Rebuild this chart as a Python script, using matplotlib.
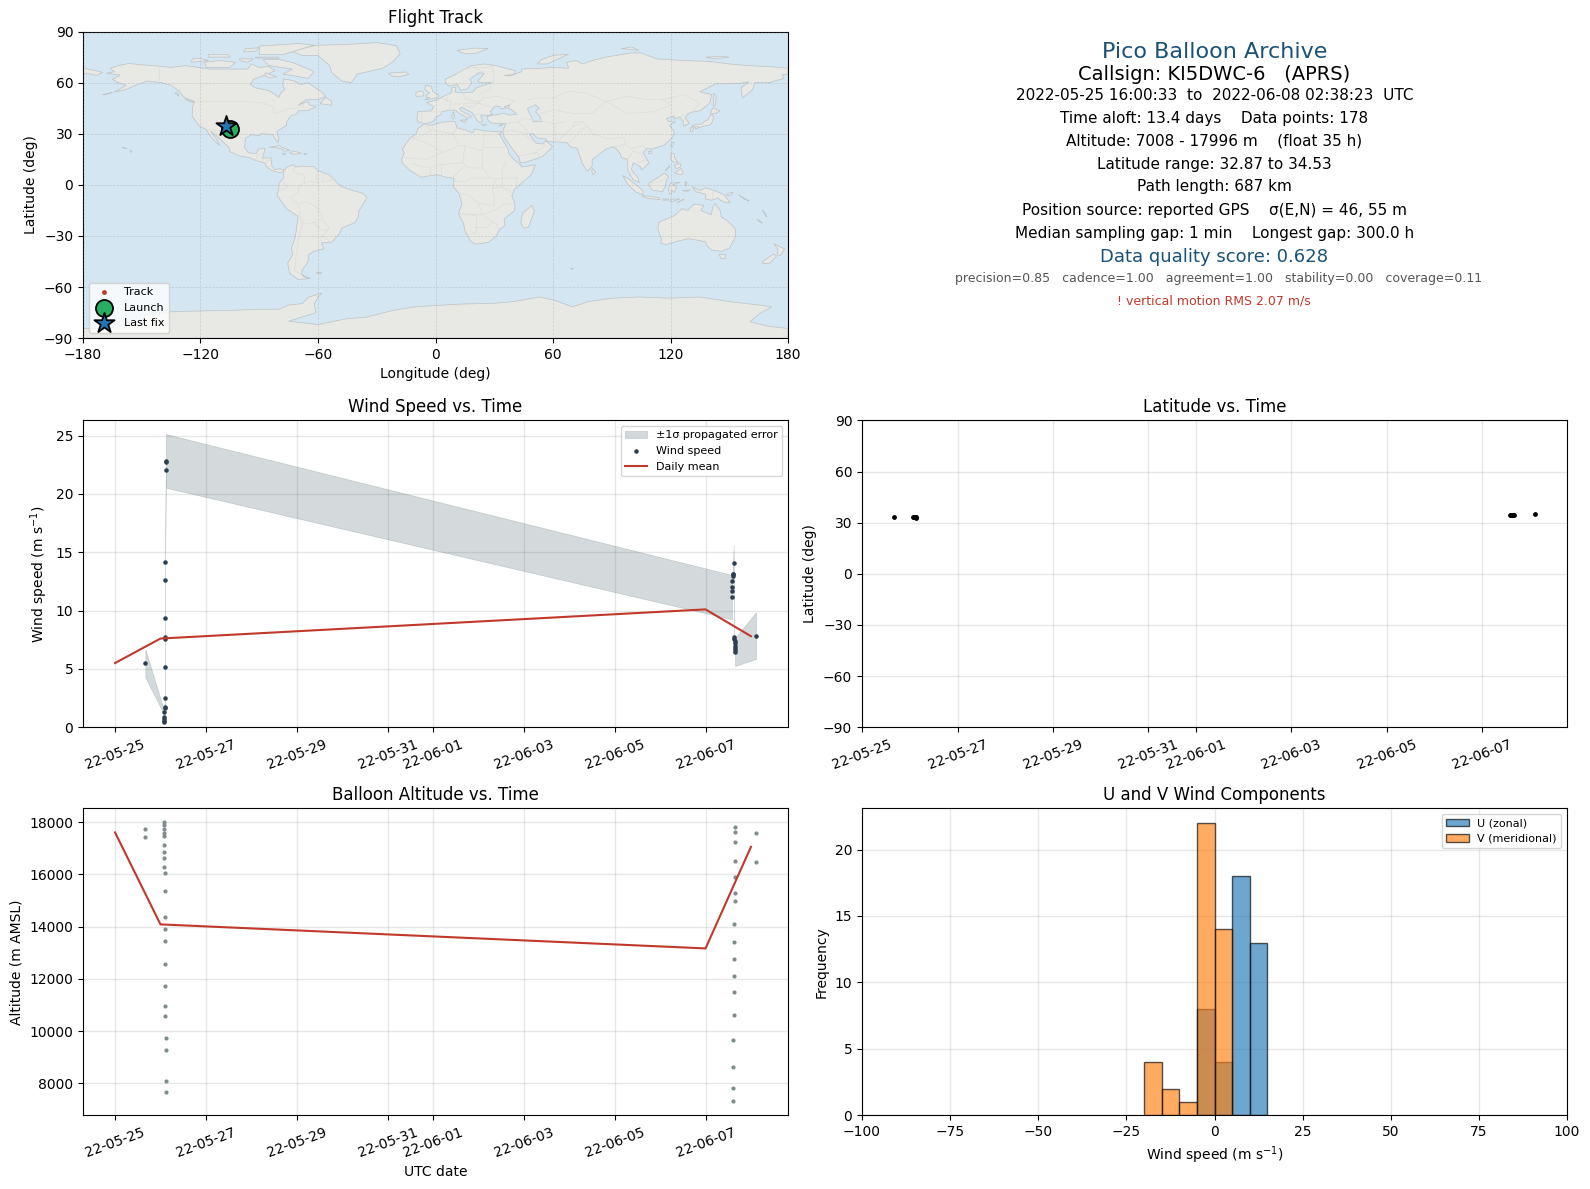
import numpy as np
import matplotlib
matplotlib.use("Agg")
import matplotlib.pyplot as plt
import matplotlib.dates as mdates
from matplotlib.patches import Polygon

# ---------- flight data (days since 2022-05-25 00:00 UTC) ----------
wind_days = [0.667, 1.078, 1.078, 1.078, 1.078, 1.078, 1.09, 1.09, 1.10, 1.10, 1.10, 1.10, 1.10, 1.10, 1.10,
             1.12, 1.12, 1.12,
             13.58, 13.58, 13.58, 13.58, 13.60, 13.60, 13.60, 13.62,
             13.63, 13.63, 13.64, 13.64, 13.65, 13.65, 13.65, 13.65, 14.11]
wind_speed = [5.48, 1.28, 0.46, 0.57, 0.68, 0.86, 1.63, 1.71, 2.48, 5.14, 7.6, 7.76, 9.33, 12.6, 14.2,
              22.09, 22.75, 22.83,
              11.15, 11.66, 12.0, 12.5, 13.0, 13.1, 13.15, 14.04,
              7.76, 7.6, 7.4, 7.2, 7.0, 6.8, 6.6, 6.45, 7.85]
wind_err = [1.2, 0.18, 0.1, 0.1, 0.1, 0.1, 0.15, 0.15, 0.2, 0.25, 0.3, 0.3, 0.3, 0.35, 0.4,
            0.5, 0.5, 2.3,
            1.9, 0.3, 0.3, 0.3, 0.3, 0.3, 0.3, 1.56,
            0.2, 0.2, 0.2, 0.2, 0.2, 0.2, 0.2, 1.2, 2.0]

mean_days = [0, 1, 13, 14]
wind_mean = [5.5, 7.6, 10.1, 7.8]
alt_mean = [17610, 14090, 13170, 17060]

alt_days = [0.667, 0.667,
            1.078, 1.078, 1.078, 1.078, 1.078, 1.078, 1.078, 1.078, 1.078,
            1.10, 1.10, 1.10, 1.10, 1.10, 1.10, 1.10, 1.10, 1.10,
            1.12, 1.12, 1.12, 1.12,
            13.65, 13.65, 13.65, 13.65, 13.65, 13.65, 13.65,
            13.63, 13.63, 13.63, 13.63, 13.63, 13.63,
            13.60, 13.60, 13.60, 13.60,
            14.11, 14.11]
altitude = [17731, 17425,
            17996, 17898, 17731, 17578, 17463, 17118, 16849, 16619, 16273,
            16043, 15352, 14355, 13895, 13473, 12590, 11746, 10979, 10595,
            9751, 9290, 8101, 7679,
            17808, 17616, 17233, 16504, 15890, 15276, 14969,
            14087, 13434, 12782, 12130, 11516, 10634,
            9675, 8639, 7833, 7320,
            17578, 16465]

lat_days = [0.667, 1.07, 1.08, 1.09, 1.10, 1.11, 1.12, 1.13, 13.58, 13.60, 13.62, 13.64, 13.66, 14.11]
latitude = [33.1, 33.6, 33.5, 33.4, 33.3, 33.2, 33.1, 33.0, 34.4, 34.5, 34.5, 34.5, 34.4, 35.0]

u_edges = [-5, 0, 5, 10]
u_values = [8, 4, 18, 13]
v_edges = [-20, -15, -10, -5, 0]
v_values = [4, 2, 1, 22, 14]

launch_lon, launch_lat = -105.0, 32.9
last_lon, last_lat = -107.2, 34.4
track_lon = [-105.0, -105.2, -106.0, -106.8, -107.2]
track_lat = [32.9, 33.2, 33.5, 34.2, 34.4]

# ---------- land outlines (lon, lat) ----------
north_america = [(-168,65.5),(-164,66.5),(-166,68.5),(-162,70),(-156.5,71.3),(-150,70.5),(-141,69.7),(-135,69),(-128,70),(-124,69.5),(-115,68),(-108,68),(-100,68),(-96,68),(-94,71),(-90,69),(-85,69.5),(-82,67),(-87,64.5),(-93,62),(-94.5,59),(-92,57),(-85,55.3),(-82,53),(-80,51.3),(-79,54),(-77,56),(-78,59),(-77.5,62.3),(-72,61),(-69,58.8),(-65,60),(-62,57.5),(-58,54.5),(-56,52),(-60,50),(-66,50),(-70,47),(-65,49),(-64.5,47),(-61,46),(-65,43.7),(-70,43.5),(-71,41.5),(-74,40.5),(-76,37),(-76,35),(-81,31.5),(-80,27),(-80.5,25),(-82,27),(-83,29.5),(-85,29.8),(-89,30),(-90,29),(-94,29.5),(-97,27.5),(-97.5,22),(-95.5,18.8),(-91.5,18.5),(-90.5,21),(-87,21.5),(-88,17),(-88.5,15.8),(-84,15.8),(-83.5,11),(-82,9),(-79.5,9.5),(-77.3,8.7),(-78,7.5),(-80,7.3),(-83,8.2),(-85.8,10),(-87.5,13),(-92,14.3),(-95,16),(-100,17),(-105,19.5),(-105.5,22),(-109,25.7),(-112.5,29.5),(-114.7,31.5),(-112,27),(-110,23),(-112,25),(-115,28.5),(-117,32.5),(-120.5,34.5),(-122.5,37.5),(-124.3,40.5),(-124,46),(-123,49),(-128,51),(-131,55),(-135,58.5),(-140,60),(-147,61),(-152,59),(-158,56),(-164,54.5),(-158,58.5),(-162,60),(-165,62),(-161,64.5)]
south_america = [(-77.3,8.7),(-75.5,10.8),(-72,12),(-71.5,10.5),(-68,11),(-62,10.7),(-60,8.3),(-54,5.8),(-50,1),(-48,-1),(-44,-2.7),(-37,-5),(-35,-7.5),(-39,-15),(-39.5,-19),(-41,-22),(-48,-25.5),(-48.7,-28),(-53,-33.8),(-58.3,-34),(-57,-37.5),(-62,-39),(-65,-41),(-65,-45),(-68,-50),(-68.5,-52.5),(-65,-55),(-70,-55.5),(-74.5,-52),(-75.5,-46),(-73,-41),(-73.5,-37),(-71.5,-30),(-70.2,-18.5),(-76,-14),(-81,-6),(-80,-2),(-80,1),(-77.5,4),(-77.5,7.5)]
africa = [(-5.8,35.8),(-2,35),(3,36.8),(10,37.3),(11,33.5),(15,32.3),(19,30.5),(20,32.8),(25,31.7),(32,31.2),(34.3,31.2),(32.5,30),(34,27),(37,21),(37.5,18.5),(39.5,15.5),(43.2,12),(44,10.5),(51,11.8),(49,6),(45,2),(40,-3),(39,-6.5),(40.5,-11),(40.5,-15),(35,-20),(35.5,-24),(32.8,-26),(31,-30),(27,-33.8),(20,-34.8),(18,-33),(15,-27),(14.3,-22.5),(11.8,-17),(13.5,-11),(12,-5),(9,-1),(9.5,3.8),(5.5,4.5),(1,6),(-4,5.2),(-7.5,4.5),(-13,8.5),(-16.8,12.5),(-17.3,14.7),(-16,19),(-17,21),(-13,27.5),(-9.8,30),(-9,33)]
eurasia = [(-9,37),(-9.5,38.7),(-9,43),(-2,43.5),(-1,46),(-4.5,48.3),(1,50),(4,52),(8,54),(8.5,57),(10.5,57.5),(10,54.5),(14,54),(19,54.5),(21,57),(24,58.3),(29,60),(23,60),(21.5,61),(25,65.5),(22,65.8),(17.5,62),(18.5,60),(16.5,56.5),(13,55.5),(11,59),(7,58),(5,60),(5,62),(12,66),(18,70),(25,71),(31,70),(41,67),(40,64.8),(35,64.3),(38,64),(44,66.5),(44,68),(54,68.5),(60,69),(68,68.5),(67,72),(72,73),(75,71),(80,73),(87,75),(100,77.5),(105,77.5),(113,74),(127,73),(140,72.5),(150,71),(160,70),(170,69.5),(180,68.5),(180,65),(177,64.7),(178,62.5),(170,60),(163,60),(162,56),(156.7,51),(156,57),(160,60.5),(155,59.5),(143,59.3),(135,54.7),(141,53),(140,48),(135,43.5),(130,42.5),(127.5,39.8),(129.5,36),(126.5,34.5),(126.5,37.5),(125,39.5),(121.5,39),(122,40.5),(118,39),(119,37.2),(122.5,37),(119.5,35),(122,31),(121,28),(117,23.5),(110.5,21),(108,21.5),(106,19),(109,13),(106.5,10),(105,8.7),(105,10.5),(101,13),(100,9),(103.5,4),(104,1.3),(101,3),(98.3,8),(98,15),(95,16),(94,19),(91,22.5),(87,21),(82,16.5),(80,15),(80,11),(77.5,8),(75,12.5),(73,19),(72.5,21.5),(69,22.3),(67,25),(61,25.2),(57,25.7),(56.3,27),(52,27.5),(50,30),(48,30),(50,26.5),(51.5,24.5),(54.5,24),(56.3,26),(58.8,23.5),(59.8,22.3),(55,17),(52,15.5),(45,13),(43.3,12.8),(42.7,16),(39,21.5),(35,28),(34.8,29.5),(34.3,31.3),(35.9,36),(32,36),(28,36.5),(26.5,38.5),(26.3,40),(29,41),(31.5,41.2),(35,42),(38,41),(41.5,41.5),(39,44),(37,45),(38,47),(35,46),(36.5,45.3),(33.5,44.5),(33,46),(30.5,46.3),(28,43),(29,41.2),(26,40.8),(23,40.5),(24,38),(23,36.5),(21.5,37.5),(19.5,41),(18.5,42.5),(13.5,45.5),(12.3,45),(13,43.5),(16,41.8),(18.5,40),(16.5,39.5),(16,38),(15.5,40),(12,42),(10,44),(7,43.8),(3.2,43),(3,41.5),(0,39.5),(-0.5,38),(-2,36.8),(-5.5,36)]
australia = [(114,-22),(113.5,-26),(115.5,-32),(115,-34.3),(118,-35),(124,-33),(129,-31.6),(134,-32.5),(138,-33.5),(138.5,-35.5),(141,-38.3),(146,-39),(150,-37.3),(153,-31),(153.3,-26),(149,-21),(146,-19),(145.3,-15),(142.5,-10.8),(141.5,-13.5),(140.8,-17.5),(135.5,-15),(137,-12),(132,-11.3),(130,-13.5),(129,-15),(126,-14),(122,-18),(117,-20.5)]
antarctica = [(-180,-90),(-180,-84.3),(-165,-84),(-150,-80),(-148,-76.5),(-135,-74.5),(-120,-74),(-103,-73.6),(-90,-73),(-80,-73),(-75,-70.5),(-68,-69.7),(-65,-66),(-58,-63.5),(-60,-66),(-62,-70),(-61,-75),(-75,-80),(-60,-82),(-45,-78.5),(-36,-77.8),(-21,-73.5),(-10,-71.5),(12,-70),(30,-69.5),(40,-68.5),(53,-65.8),(60,-67.5),(70,-71.6),(78,-68.5),(90,-66.5),(104,-65.8),(120,-66.5),(135,-65.8),(150,-68.5),(165.7,-70.6),(171.7,-71.6),(165,-76),(160.6,-80.4),(170,-83),(180,-84.3),(180,-90)]
islands = [
    [(-180,68.5),(-175,67.5),(-170,66),(-173,64.3),(-178,65.5),(-180,65)],
    [(-73,78.2),(-67,80.5),(-60,82),(-45,82.5),(-30,83.5),(-20,81.8),(-18,77),(-22,72),(-27,68.5),(-40,65),(-43,60),(-48,61),(-53,66),(-54,70),(-60,76),(-68,76)],
    [(-80,73.7),(-72,71.5),(-62,66.5),(-65,62.5),(-72,64),(-78,65),(-73,68),(-85,70),(-88,73.5)],
    [(-117,69),(-105,69),(-102,72),(-110,73),(-118,72)],
    [(-125,72),(-116,73),(-120,74.3),(-124,74)],
    [(-90,76.5),(-78,76.5),(-62,82),(-70,83),(-90,81.5)],
    [(-92,75),(-80,75),(-80,74.3),(-92,74.5)],
    [(-116,75),(-105,75),(-106,76.5),(-116,76.5)],
    [(-98,78),(-92,78.5),(-90,80.5),(-97,80)],
    [(-100,73),(-96,72),(-93,74),(-100,74)],
    [(-87,65.8),(-81,63.5),(-85,62.8),(-87,64)],
    [(-59,47.7),(-53,46.7),(-53,49),(-56,51.5)],
    [(-128,50.7),(-124,49),(-123.5,48.4),(-125.5,48.8)],
    [(-133,54),(-131.5,54),(-131,52),(-132,53)],
    [(-85,22),(-80,23),(-74.2,20.2),(-77.5,19.9),(-78,21),(-82.5,22)],
    [(-74.4,18.5),(-73,20),(-68.5,18.7),(-71,18)],
    [(-78.3,18.4),(-76.3,18.1),(-77,17.8)],
    [(-67.2,18.5),(-65.7,18.3),(-66,18),(-67.2,18)],
    [(-156,20.6),(-155,19.7),(-155.7,19)],
    [(-160,22.2),(-158,21.5),(-157.5,21.2),(-159.5,21.8)],
    [(-170,53),(-165,54.2),(-167,53.5)],
    [(-61,-51.5),(-58,-51.5),(-59,-52.3)],
    [(-24,65.5),(-20,66),(-15,66.3),(-13.6,65),(-18.5,63.4),(-22.5,63.9)],
    [(-5.5,50),(1.3,51.2),(1.7,52.7),(-1.5,55),(-2,57.7),(-5,58.6),(-5.5,56),(-3,54),(-4.5,53),(-5,51.7),(-3,51.3)],
    [(-10,52),(-6,52.2),(-6,54.5),(-8,55.2),(-10,54)],
    [(11,79),(20,80.3),(27,80),(20,77),(15,77)],
    [(52,71),(57,71),(68,76.8),(60,76),(54,73.5)],
    [(95,80),(104,79),(100,81)],
    [(138,75),(146,75.5),(150,75),(142,74)],
    [(49.3,-12),(50.5,-15.5),(47.5,-24.8),(45,-25.5),(43.5,-22),(44.5,-16.5)],
    [(80,9.7),(81.8,7.5),(80.5,6),(79.8,8)],
    [(130,33.5),(131.8,33.5),(131,31.2),(130.2,31.3)],
    [(130.9,34.3),(132.5,35.5),(136,35.8),(137,37),(139.5,38.5),(140,40.5),(141.4,41.3),(142,39.5),(141,36),(139.8,35),(136.8,34.5),(135,33.6),(132.5,34)],
    [(132.5,34),(134.5,34.2),(134,33.3),(132.8,32.8)],
    [(140.3,41.6),(141.5,45.3),(145.3,43.5),(143,42)],
    [(142,54),(143.3,52),(143,47),(142,46),(142,50)],
    [(121,25),(122,25),(120.8,22),(120.1,23)],
    [(108.7,19.5),(110.5,20),(110.5,18.8),(109,18.2)],
    [(120.5,18.5),(122,18.4),(122,16),(124,13),(121,13.7),(120,16)],
    [(122,7),(125.5,9.7),(126.5,7),(125.5,6)],
    [(122,11.5),(125,12.5),(125,10.5),(123,9.5)],
    [(117.3,8.5),(119.5,11.3),(119.5,10.5),(117.5,8.3)],
    [(109,1),(111,2.5),(113.5,4.2),(116.8,7),(119,5),(117.7,2),(117.5,0),(116,-4),(110.5,-3),(109,0)],
    [(95.5,5.5),(98,4),(103.5,-1),(106,-3.5),(105.8,-5.8),(102,-4),(98.5,0)],
    [(105.3,-6.5),(108.5,-6.5),(114.5,-7.7),(114.3,-8.7),(108,-7.8)],
    [(116,-8.3),(119,-8.3),(119,-8.9),(116,-9)],
    [(120,-8.5),(125,-8.2),(123,-9),(120,-10)],
    [(124,-10),(127,-8.4),(125,-9.5),(123.7,-10.4)],
    [(119.5,-5.5),(119,-2.5),(120,1),(125,1.5),(121,0),(123,-1),(122,-4.5),(120.5,-3),(120.4,-5.5)],
    [(127.5,2),(128.5,1),(127.7,-0.8)],
    [(126,-3.2),(130,-3),(128,-3.8)],
    [(131,-1),(135,-3.3),(138,-1.7),(141,-2.7),(145,-4.5),(147.5,-6),(150.5,-10.5),(147,-10),(144,-7.7),(141,-9),(138,-8.3),(138,-5.5),(133,-4)],
    [(148.5,-5.5),(152,-4.2),(151,-6),(149,-6.3)],
    [(155,-6),(156,-6.8),(160,-9.5),(158,-8.5)],
    [(164,-20),(167,-22.3),(166,-22.2)],
    [(167,-15),(167.8,-16),(169,-18.8),(168.3,-17)],
    [(144.7,-40.8),(148.2,-40.8),(148,-43),(146,-43.5)],
    [(172.8,-34.5),(178.3,-37.7),(176,-41.5),(174.8,-41.2),(174.7,-37.5)],
    [(172.7,-40.6),(174.2,-41.7),(170.8,-45.9),(167,-46.3),(167.5,-44.5)],
    [(8.3,41),(9.7,41),(9.5,39.2),(8.5,39)],
    [(8.7,42.5),(9.5,43),(9.3,41.5)],
    [(12.5,38),(15.6,38.2),(15,36.7)],
    [(23.5,35.5),(26.3,35.2),(24.5,34.9)],
    [(32.3,35),(34.5,35.6),(33.5,34.6)],
    [(68.8,-49),(70.3,-49),(70,-49.7)],
    [(-64,-54.7),(-66,-54.5),(-68,-53),(-64.5,-54.9)],
]
caspian = [(47,45),(51,47),(53,45),(51,43),(53.5,40),(54,37),(50,37.2),(49,40),(47.5,43)]

borders = [
    [(-141,69.7),(-141,60)], [(-135,58.5),(-130,55)],
    [(-123,49),(-95,49),(-88,48),(-83,46),(-82.5,42),(-79,43),(-75,45),(-71,45),(-68,47.3),(-67,45)],
    [(-117,32.5),(-108,31.5),(-106,31.7),(-101,29.5),(-97.5,26)],
    [(-92,14.5),(-91,17.5),(-89,18)], [(-88.5,15.8),(-87.5,13)], [(-84,15),(-87,13)], [(-83.7,11),(-85.8,11)], [(-82.8,9.5),(-83,8.2)],
    [(-72,12),(-72.5,8),(-70,6.5),(-67,6),(-67,1),(-70,-1),(-70,-4.2),(-74,-7.5),(-70.5,-11),(-69,-15),(-69.5,-17.5),(-70.2,-18.5)],
    [(-60,8.3),(-61,5),(-60,1.5),(-64,2),(-67,1)], [(-57,6),(-58,2)], [(-54,5.8),(-54,2.3),(-58,2)], [(-51.7,4),(-54,2.3)],
    [(-80,-3.5),(-75,-1),(-77.5,1)], [(-69,-11),(-65,-10),(-60,-14),(-58,-18),(-58,-20),(-62,-22),(-67,-23),(-69.5,-17.5)],
    [(-70,-18.5),(-68,-23),(-70,-32),(-71,-40),(-72,-50),(-68.5,-52.5)], [(-58,-20),(-55,-24),(-54.5,-26),(-58,-27),(-62,-22)],
    [(-54.5,-26),(-58,-30),(-58.3,-34)], [(-58,-30),(-53,-33.8)],
    [(-9,42),(-7,41.8),(-7,37.3)], [(-2,43.5),(3,42.5)], [(2.5,51),(6,49.5),(8,49),(7.5,47.5),(7,44)], [(8,54.8),(10,54.8)], [(6,53.3),(6,51),(6,49.5)],
    [(14.2,54),(14.8,51),(18,49.5),(22.5,49),(24,51),(23.5,54)], [(7.5,47.5),(13,47.5),(17,48),(22,48),(22.5,49)], [(14,46.5),(19,46),(22,48)],
    [(19.5,41),(22,41.5),(26,41)], [(22,48),(29,45.5)], [(23.5,54),(28,56),(28,60)], [(24,51),(32,52),(40,49.5),(38,47)],
    [(12,66),(15,68),(20,69),(25,69),(29,69.5),(30,62),(29,60)], [(24,66),(20,69)],
    [(-5.5,35.5),(-2,32),(-9,28),(-13,27.5)], [(-2,35),(-1,32),(9,30),(12,23),(15,23),(24,20),(25,31.7)], [(11,33.5),(9,30)], [(25,22),(36,22)],
    [(24,20),(24,10),(28,4),(31,3.5),(34,4),(42,4),(41,-1.7)], [(36,14),(34,8),(34,4)], [(15,23),(14,13),(16,10),(24,10)], [(12,23),(4,19),(-5,25),(-13,27.5)],
    [(-16,16),(-5,15),(4,19)], [(-12,12.5),(-5,10),(3,12),(14,13)], [(3,6),(3,12)], [(-3,5),(-3,10)], [(9,4.5),(14,10)], [(9.5,2.3),(16,2),(18,4),(28,4)],
    [(12,-5),(17,-6),(22,-11),(30,-12),(30,-8),(29,-2),(31,3.5)], [(13.5,-17),(24,-17.5),(30,-15),(35,-11.5),(40.5,-11)], [(12,-17),(21,-18),(21,-28),(17,-29)], [(25,-18),(29,-22),(31,-22.5),(32,-26)], [(20,-25),(26,-25),(29,-22)],
    [(29,-2),(34,-1),(39,-4.5)], [(34,-1),(34,4)], [(22,-11),(24,-17.5)],
    [(34.3,31.3),(39,32),(47,30)], [(36,36),(42,37),(45,39),(48,38.5)], [(42,37),(46,33),(48,30)], [(46,29),(51,24.5)], [(52,20),(55,22),(56,25)], [(43,17),(52,19),(53,16)],
    [(48,38.5),(54,37.3),(61,36),(61,30),(61.5,25)], [(61,30),(66,29.5),(70,34),(71,37),(75,37)], [(66,37),(61,36)],
    [(47,50),(52,51),(60,51),(68,55),(77,54),(87,49)], [(54,42),(60,44),(70,42),(80,42),(87,49)], [(70,34),(75,37),(78,34)], [(61.5,25),(66,29.5)], [(68,24),(71,28),(75,33),(78,34),(80,30),(88,27),(96,28),(97,24),(92,22)],
    [(87,49),(98,42),(112,43),(120,47),(116,50),(127,53),(135,48),(131,43)], [(87,49),(98,52),(108,50),(116,50)], [(124,40),(130,42.5)], [(125,38),(128.5,38.5)],
    [(97,24),(100,21),(102,22),(106,23),(108,21.5)], [(98,15),(101,20),(105,18),(107,14.5),(103,13)], [(100,6.5),(102,6)], [(117,4),(115,2),(110,1)],
    [(141,-2.7),(141,-9)], [(125,-9),(125,-10)],
]

# ---------- text ----------
title_lines = ["Pico Balloon Archive", "Callsign: KI5DWC-6   (APRS)"]
info_lines = ["2022-05-25 16:00:33  to  2022-06-08 02:38:23  UTC",
              "Time aloft: 13.4 days    Data points: 178",
              "Altitude: 7008 - 17996 m    (float 35 h)",
              "Latitude range: 32.87 to 34.53",
              "Path length: 687 km",
              "Position source: reported GPS    σ(E,N) = 46, 55 m",
              "Median sampling gap: 1 min    Longest gap: 300.0 h"]
score_line = "Data quality score: 0.628"
sub_line = "precision=0.85   cadence=1.00   agreement=1.00   stability=0.00   coverage=0.11"
warn_line = "! vertical motion RMS 2.07 m/s"

# ---------- layout ----------
W, H = 1590, 1189
fig = plt.figure(figsize=(W / 100, H / 100), dpi=100)


def make_axes(left, top, right, bottom):
    return fig.add_axes([left / W, 1 - bottom / H, (right - left) / W, (bottom - top) / H])


ax_map = make_axes(83, 31.6, 788, 338.2)
ax_wind = make_axes(83, 420.4, 788, 727.2)
ax_lat = make_axes(862, 420.4, 1567, 727.2)
ax_alt = make_axes(83, 808.4, 788, 1115.2)
ax_hist = make_axes(862, 808.4, 1567, 1115.2)

RED = "#c0392b"
NAVY = "#1a5276"
GRID = dict(color="#b0b0b0", alpha=0.3, linewidth=1.0)


def to_dates(days):
    return np.datetime64("2022-05-25T00:00") + (np.asarray(days) * 1440).astype(int) * np.timedelta64(1, "m")


# ---------- map ----------
ax_map.set_facecolor("#d4e6f1")
land_polys = [north_america, south_america, africa, eurasia, australia, antarctica] + islands
for poly in land_polys:
    ax_map.add_patch(Polygon(poly, closed=True, facecolor="#e8e8e4", edgecolor="#bcc2c5", linewidth=0.5, zorder=1))
ax_map.add_patch(Polygon(caspian, closed=True, facecolor="#d4e6f1", edgecolor="#bcc2c5", linewidth=0.5, zorder=1.2))
for line in borders:
    xs, ys = zip(*line)
    ax_map.plot(xs, ys, color="#dcdcd8", linewidth=0.5, zorder=1.5)
ax_map.grid(True, color="#888888", alpha=0.3, linewidth=0.5, linestyle="--", zorder=2)
ax_map.set_axisbelow(False)
ax_map.scatter(track_lon, track_lat, s=6, color=RED, label="Track", zorder=3)
ax_map.scatter([launch_lon], [launch_lat], s=150, color="#27ae60", edgecolor="black", linewidth=1.3, label="Launch", zorder=4)
ax_map.scatter([last_lon], [last_lat], s=230, marker="*", color="#1f77b4", edgecolor="black", linewidth=1.3, label="Last fix", zorder=5)
ax_map.set_xlim(-180, 180)
ax_map.set_ylim(-90, 90)
ax_map.set_xticks(np.arange(-180, 181, 60))
ax_map.set_yticks(np.arange(-90, 91, 30))
ax_map.set_xlabel("Longitude (deg)")
ax_map.set_ylabel("Latitude (deg)")
ax_map.set_title("Flight Track", fontsize=12)
ax_map.legend(loc="lower left", fontsize=8, framealpha=0.8)

# ---------- info panel ----------
cx = 0.5 * (862 + 1567)


def put(y, s, dx=0, **kw):
    fig.text((cx + dx) / W, 1 - y / H, s, ha="center", va="center", **kw)


put(52.5, title_lines[0], fontsize=16, color=NAVY)
put(75, title_lines[1], fontsize=14, color="black")
for y, s in zip([95, 118.5, 140.7, 164.5, 187, 211, 233.2], info_lines):
    put(y, s, fontsize=11, color="black")
put(257.5, score_line, fontsize=13, color=NAVY)
put(279, sub_line, dx=4, fontsize=9, color="#555555")
put(301, warn_line, dx=-1, fontsize=9, color=RED)

# ---------- wind ----------
w = np.asarray(wind_speed)
e = np.asarray(wind_err)
ax_wind.fill_between(to_dates(wind_days), w - e, w + e, color="#345058", alpha=0.21, linewidth=0.5, label="±1σ propagated error")
ax_wind.scatter(to_dates(wind_days), w, s=5, color="#2c3e50", label="Wind speed", zorder=3)
ax_wind.plot(to_dates(mean_days), wind_mean, color=RED, linewidth=1.5, label="Daily mean", zorder=4)
ax_wind.set_ylim(0, 26.3)
ax_wind.set_ylabel("Wind speed (m s$^{-1}$)")
ax_wind.set_title("Wind Speed vs. Time", fontsize=12)
ax_wind.legend(loc="upper right", fontsize=8)

# ---------- latitude ----------
ax_lat.scatter(to_dates(lat_days), latitude, s=6, color="black", zorder=3)
ax_lat.set_ylim(-90, 90)
ax_lat.set_yticks(np.arange(-90, 91, 30))
ax_lat.set_ylabel("Latitude (deg)")
ax_lat.set_title("Latitude vs. Time", fontsize=12)

# ---------- altitude ----------
ax_alt.scatter(to_dates(alt_days), altitude, s=4, color="#7f8c8d", zorder=3)
ax_alt.plot(to_dates(mean_days), alt_mean, color=RED, linewidth=1.5, zorder=4)
ax_alt.set_ylabel("Altitude (m AMSL)")
ax_alt.set_xlabel("UTC date")
ax_alt.set_title("Balloon Altitude vs. Time", fontsize=12)

for ax in (ax_wind, ax_lat, ax_alt):
    ax.xaxis.set_major_locator(mdates.DayLocator(bymonthday=range(1, 32, 2)))
    ax.xaxis.set_major_formatter(mdates.DateFormatter("%y-%m-%d"))
    ax.tick_params(axis="x", labelrotation=20)
    ax.grid(True, **GRID)
    ax.set_axisbelow(True)

# ---------- histogram ----------
ax_hist.bar(u_edges, u_values, width=5, align="edge", color="#1f77b4", alpha=0.65, edgecolor="black", linewidth=1.0, label="U (zonal)", zorder=2)
ax_hist.bar(v_edges, v_values, width=5, align="edge", color="#ff7f0e", alpha=0.65, edgecolor="black", linewidth=1.0, label="V (meridional)", zorder=3)
ax_hist.set_xlim(-100, 100)
ax_hist.set_xticks(np.arange(-100, 101, 25))
ax_hist.set_yticks(np.arange(0, 21, 5))
ax_hist.set_ylim(0, 23.1)
ax_hist.set_xlabel("Wind speed (m s$^{-1}$)")
ax_hist.set_ylabel("Frequency")
ax_hist.set_title("U and V Wind Components", fontsize=12)
ax_hist.legend(loc="upper right", fontsize=8)
ax_hist.grid(True, **GRID)
ax_hist.set_axisbelow(True)

fig.savefig("out.png", dpi=100)
